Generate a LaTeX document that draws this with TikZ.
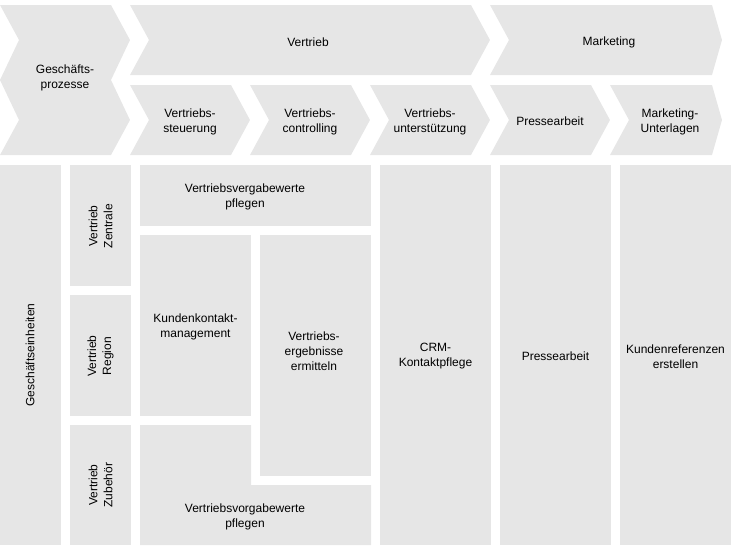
\documentclass[tikz,border=0pt]{standalone}
\usepackage{fontspec}
\setmainfont{Liberation Sans}
\definecolor{boxgray}{HTML}{E6E6E6}
\tikzset{every text node part/.style={align=center}}
\tikzset{box/.style={fill=boxgray}}
\tikzset{lbl/.style={font=\fontsize{12}{15}\selectfont, text=black, inner sep=0pt, yshift=-1.5pt}}
\tikzset{vlbl/.style={font=\fontsize{12}{15}\selectfont, text=black, inner sep=0pt, rotate=90}}
% chevron: left x, top y, top right x, point x
\newcommand{\chev}[4]{%
	\fill[box] (#1,#2) -- (#3,#2) -- (#4,#2+35) -- (#3,#2+70) -- (#1,#2+70) -- (#1+19,#2+35) -- cycle;
}
\newcommand{\rbox}[4]{\fill[box] (#1,#2) rectangle (#3,#4);}

\begin{document}
\begin{tikzpicture}[x=1pt, y=-1pt]
	\useasboundingbox (0,0) rectangle (731,546);
	
	% Process Header
	\fill[box] (0,5) -- (111,5) -- (130,40) -- (111,80) -- (130,120) -- (111,155) -- (0,155) -- (19,120) -- (0,80) -- (19,40) -- cycle;
	\chev{130}{5}{471}{490}
	\chev{490}{5}{712}{722}
	\chev{130}{85}{231}{250}
	\chev{250}{85}{351}{370}
	\chev{370}{85}{471}{490}
	\chev{490}{85}{591}{610}
	\chev{610}{85}{712}{722}
	
	% Units
	\rbox{0}{165}{61}{545}
	\rbox{70}{165}{131}{286}
	\rbox{70}{295}{131}{416}
	\rbox{70}{425}{131}{545}
	
	% Tasks
	\rbox{140}{165}{371}{226}
	\rbox{140}{235}{251}{416}
	\rbox{260}{235}{371}{476}
	\fill[box] (140,425) -- (251,425) -- (251,485) -- (371,485) -- (371,545) -- (140,545) -- cycle;
	\rbox{380}{165}{491}{545}
	\rbox{500}{165}{611}{545}
	\rbox{620}{165}{731}{545}
	
	% Nodes
	\node[lbl] (gp) at (65,76) {Geschäfts-\\prozesse};
	\node[lbl] (vertrieb) at (308,41) {Vertrieb};
	\node[lbl] (marketing) at (609,41) {Marketing};
	\node[lbl] (steuerung) at (190,120) {Vertriebs-\\steuerung};
	\node[lbl] (controlling) at (310,120) {Vertriebs-\\controlling};
	\node[lbl] (unterstuetzung) at (430,120) {Vertriebs-\\unterstützung};
	\node[lbl] (presse) at (550,120) {Pressearbeit};
	\node[lbl] (unterlagen) at (670,120) {Marketing-\\Unterlagen};
	
	\node[vlbl] (einheiten) at (30,355) {Geschäftseinheiten};
	\node[vlbl] (zentrale) at (100.5,226) {Vertrieb\\Zentrale};
	\node[vlbl] (region) at (100.5,356) {Vertrieb\\Region};
	\node[vlbl] (zubehoer) at (100.5,485) {Vertrieb\\Zubehör};
	
	\node[lbl] (vergabe) at (245,195) {Vertriebsvergabewerte\\pflegen};
	\node[lbl] (kontakt) at (195.5,325) {Kundenkontakt-\\management};
	\node[lbl] (ergebnisse) at (314,350) {Vertriebs-\\ergebnisse\\ermitteln};
	\node[lbl] (vorgabe) at (245,515) {Vertriebsvorgabewerte\\pflegen};
	\node[lbl] (crm) at (435.5,355) {CRM-\\Kontaktpflege};
	\node[lbl] (pressearbeit) at (555.5,355) {Pressearbeit};
	\node[lbl] (referenzen) at (675.5,355) {Kundenreferenzen\\erstellen};
\end{tikzpicture}
\end{document}
